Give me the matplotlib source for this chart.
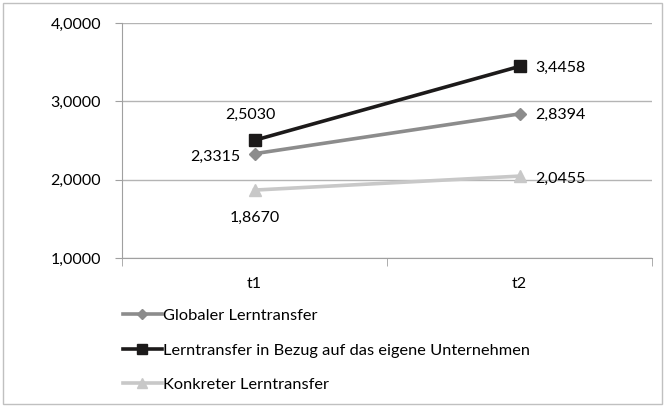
import matplotlib.pyplot as plt
from matplotlib.patches import Rectangle

plt.rcParams['font.family'] = ['Lato', 'DejaVu Sans']

categories = ['t1', 't2']
globaler = [2.3315, 2.8394]
bezug = [2.5030, 3.4458]
konkret = [1.8670, 2.0455]

names = ['Globaler Lerntransfer',
         'Lerntransfer in Bezug auf das eigene Unternehmen',
         'Konkreter Lerntransfer']

W, H = 665, 407
fig = plt.figure(figsize=(W / 100, H / 100), dpi=100)
ax = fig.add_axes([122 / W, 1 - 258 / H, (652 - 122) / W, (258 - 23) / H])

x = [0, 1]
l1, = ax.plot(x, globaler, color='#8c8c8c', lw=2.6, marker='D', ms=6, label=names[0])
l2, = ax.plot(x, bezug, color='#1c1a1a', lw=2.6, marker='s', ms=9, label=names[1])
l3, = ax.plot(x, konkret, color='#c8c8c8', lw=2.6, marker='^', ms=8, label=names[2])

ax.set_xlim(-0.5, 1.5)
ax.set_ylim(1, 4)
ax.set_yticks([1, 2, 3, 4])
ax.set_yticklabels(['1,0000', '2,0000', '3,0000', '4,0000'], fontsize=11.5)
ax.set_xticks(x)
ax.set_xticklabels(categories, fontsize=11.5)
ax.tick_params(axis='x', length=0, pad=14)
ax.tick_params(axis='y', length=5, color='#a0a0a0', pad=10)
ax.set_xticks([-0.5, 0.5, 1.5], minor=True)
ax.tick_params(axis='x', which='minor', length=6, color='#a0a0a0')
ax.grid(axis='y', color='#b4b4b4', lw=1)
ax.set_axisbelow(True)
for s in ['top', 'right']:
    ax.spines[s].set_visible(False)
ax.spines['left'].set_color('#a0a0a0')
ax.spines['bottom'].set_color('#a0a0a0')

fmt = lambda v: f'{v:.4f}'.replace('.', ',')
fs = 11.5
ax.annotate(fmt(bezug[0]), (0, bezug[0]), xytext=(-3, 18), textcoords='offset points',
            ha='center', va='center', fontsize=fs)
ax.annotate(fmt(globaler[0]), (0, globaler[0]), xytext=(-10, -2), textcoords='offset points',
            ha='right', va='center', fontsize=fs)
ax.annotate(fmt(konkret[0]), (0, konkret[0]), xytext=(0, -20), textcoords='offset points',
            ha='center', va='center', fontsize=fs)
for vals, dy in [(globaler, -1), (bezug, -1), (konkret, -2)]:
    ax.annotate(fmt(vals[1]), (1, vals[1]), xytext=(11, dy), textcoords='offset points',
                ha='left', va='center', fontsize=fs)

fig.legend(handles=[l1, l2, l3], loc='upper left', bbox_to_anchor=(108 / W, 1 - 294 / H),
           frameon=False, fontsize=11.8, handlelength=2.4, handletextpad=0.05,
           labelspacing=1.22, markerscale=0.85)

fig.add_artist(Rectangle((3 / W, 3 / H), 659 / W, 401 / H, transform=fig.transFigure,
                         fill=False, ec='#c0c0c0', lw=1))

fig.savefig('out.png', dpi=100)
